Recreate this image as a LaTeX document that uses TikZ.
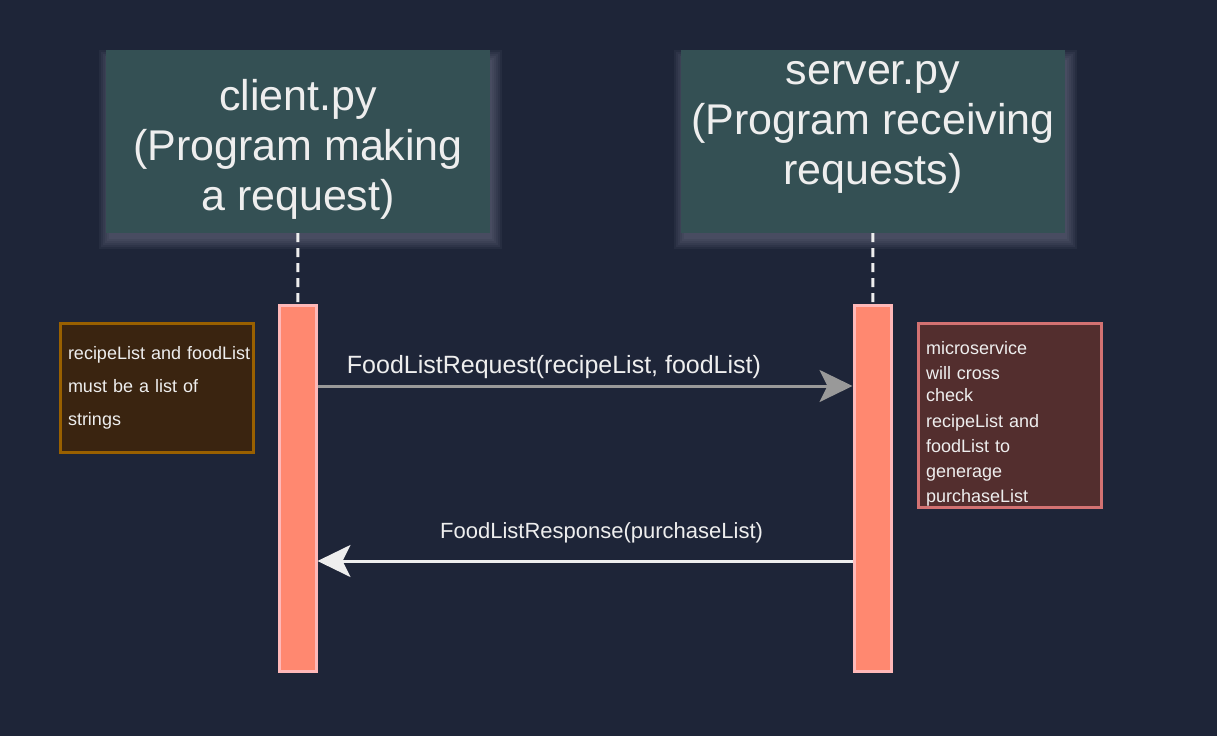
\documentclass[tikz,border=0pt]{standalone}
\usepackage{fontspec}
\setmainfont{Liberation Sans}
\usetikzlibrary{arrows.meta}
\definecolor{bg}{HTML}{1E2538}
\definecolor{headfill}{HTML}{345054}
\definecolor{ink}{HTML}{EEEEEE}
\definecolor{barfill}{HTML}{FF8870}
\definecolor{barline}{HTML}{FFB8B8}
\definecolor{leftfill}{HTML}{3A2410}
\definecolor{leftline}{HTML}{996000}
\definecolor{rightfill}{HTML}{532E2E}
\definecolor{rightline}{HTML}{D37272}
\definecolor{glowcol}{HTML}{9090A8}

\begin{document}
\begin{tikzpicture}[x=1pt,y=-1pt,
  head/.style={fill=headfill,text=ink,minimum width=384,minimum height=183,
    inner sep=0,align=center,font=\fontsize{43}{50}\selectfont},
  headtext/.style={text=ink,inner sep=0,align=center,font=\fontsize{43}{50}\selectfont},
  glow/.style={fill=glowcol,opacity=0.08},
  bar/.style={fill=barfill,draw=barline,line width=3,minimum width=37,minimum height=366,inner sep=0},
  lifeline/.style={draw=ink,line width=3,dash pattern=on 9pt off 6pt},
  note/.style={line width=3,text=ink,inner xsep=0,align=left,font=\fontsize{18}{#1}\selectfont},
  msg/.style={line width=3,-{Stealth[length=33pt,width=32pt,inset=8pt]}},
  msgtext/.style={text=ink,inner sep=0}]

\fill[bg] (0,0) rectangle (1217,736);

% soft shadow under the two headers
\foreach \x in {106,681}
  \foreach \d in {0,2,...,10}
    \fill[glow] ({\x+3-\d},{60-\d}) rectangle ({\x+386+\d},{239+\d});

\node[head] (client) at (298,141.5) {};
\node[headtext] (client label) at ([yshift=-8]client.center) {client.py\\(Program making\\a request)};
\node[head] (server) at (873,141.5) {};
\node[headtext] (server label) at ([yshift=14]server.center) {server.py\\(Program receiving\\requests)};

\node[bar] (client bar) at (297.5,488) {};
\node[bar] (server bar) at (872.5,488) {};

\draw[lifeline] (client) -- (client bar);
\draw[lifeline] (server) -- (server bar);

\node[note=33,fill=leftfill,draw=leftline,minimum width=193,minimum height=129]
  (type note) at (156.5,387.5) {};
\node[note=33,text width=183,anchor=west] (type text) at ([xshift=8]type note.west)
  {recipeList and foodList\\must be a list of\\strings};
\node[note=25,fill=rightfill,draw=rightline,minimum width=183,minimum height=184]
  (check note) at (1009.5,415) {};
\node[note=25,text width=167] (check text) at ([yshift=-9]check note.center)
  {microservice\\will cross\\[-3pt]check\\[1pt]recipeList and\\foodList to\\generage\\purchaseList};

\coordinate (req) at (0,386);
\coordinate (res) at (0,561);

\draw[msg,draw=gray!80] (client bar.east |- req) -- (server bar.west |- req)
  node[msgtext,pos=0.442,yshift=19,font=\fontsize{25}{30}\selectfont] (req label) {FoodListRequest(recipeList, foodList)};
\draw[msg,draw=ink] (server bar.west |- res) -- (client bar.east |- res)
  node[msgtext,pos=0.469,yshift=28,font=\fontsize{22}{26}\selectfont] (res label) {FoodListResponse(purchaseList)};
\end{tikzpicture}
\end{document}
